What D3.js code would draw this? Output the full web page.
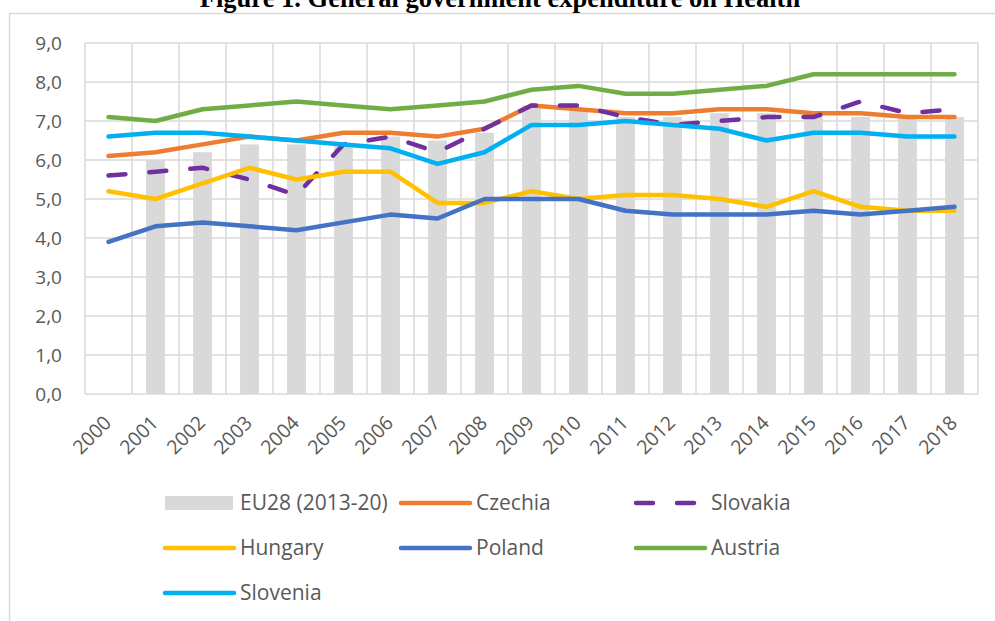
<!DOCTYPE html>
<html>
<head>
<meta charset="utf-8">
<script src="https://cdn.jsdelivr.net/npm/d3@7/dist/d3.min.js"></script>
<style>
  body { margin: 0; background: #fff; }
  .tick-label { font-family: "Open Sans", sans-serif; fill: #595959; }
  .legend text { font-family: "Open Sans", sans-serif; fill: #595959; font-size: 21px; }
</style>
</head>
<body>
<div id="chart"></div>
<script>
var width = 995, height = 621;

// data
var years = ['2000','2001','2002','2003','2004','2005','2006','2007','2008','2009',
             '2010','2011','2012','2013','2014','2015','2016','2017','2018'];
var eu28     = [null,6.0,6.2,6.4,6.4,6.4,6.6,6.5,6.7,7.4,7.3,7.1,7.1,7.2,7.2,7.1,7.1,7.1,7.1];
var czechia  = [6.1,6.2,6.4,6.6,6.5,6.7,6.7,6.6,6.8,7.4,7.3,7.2,7.2,7.3,7.3,7.2,7.2,7.1,7.1];
var slovakia = [5.6,5.7,5.8,5.5,5.1,6.4,6.6,6.2,6.8,7.4,7.4,7.1,6.9,7.0,7.1,7.1,7.5,7.2,7.3];
var hungary  = [5.2,5.0,5.4,5.8,5.5,5.7,5.7,4.9,4.9,5.2,5.0,5.1,5.1,5.0,4.8,5.2,4.8,4.7,4.7];
var poland   = [3.9,4.3,4.4,4.3,4.2,4.4,4.6,4.5,5.0,5.0,5.0,4.7,4.6,4.6,4.6,4.7,4.6,4.7,4.8];
var austria  = [7.1,7.0,7.3,7.4,7.5,7.4,7.3,7.4,7.5,7.8,7.9,7.7,7.7,7.8,7.9,8.2,8.2,8.2,8.2];
var slovenia = [6.6,6.7,6.7,6.6,6.5,6.4,6.3,5.9,6.2,6.9,6.9,7.0,6.9,6.8,6.5,6.7,6.7,6.6,6.6];
var yTicks = [0,1,2,3,4,5,6,7,8,9];

var lineSeries = [
  {name: 'Czechia',  values: czechia,  color: '#ED7D31'},
  {name: 'Slovakia', values: slovakia, color: '#7030A0', dash: '17,24'},
  {name: 'Hungary',  values: hungary,  color: '#FFC000'},
  {name: 'Poland',   values: poland,   color: '#4472C4'},
  {name: 'Austria',  values: austria,  color: '#70AD47'},
  {name: 'Slovenia', values: slovenia, color: '#00B0F0'}
];

var plot = {left: 85, right: 978, top: 43, bottom: 394};

var svg = d3.select('#chart').append('svg')
  .attr('width', width)
  .attr('height', height);

// outer chart border (cut off on right/bottom)
svg.append('rect')
  .attr('x', 9.5).attr('y', 13.5)
  .attr('width', 1000).attr('height', 700)
  .attr('fill', 'none').attr('stroke', '#d9d9d9').attr('stroke-width', 1.5);

svg.append('text')
  .attr('x', 500).attr('y', 7)
  .attr('text-anchor', 'middle')
  .style('font-family', '"Liberation Serif", "Times New Roman", serif')
  .style('font-weight', 'bold')
  .style('font-size', '26.5px')
  .attr('fill', '#000')
  .text('Figure 1. General government expenditure on Health');

var x = d3.scaleBand().domain(years).range([plot.left, plot.right]);
var xBar = d3.scaleBand().domain(years).range([plot.left, plot.right]).paddingInner(0.6).paddingOuter(0.3);
var y = d3.scaleLinear().domain([0, 9]).range([plot.bottom, plot.top]);

// gridlines
svg.append('g').selectAll('line.h')
  .data(yTicks).enter().append('line')
  .attr('x1', plot.left).attr('x2', plot.right)
  .attr('y1', function(d){ return y(d); }).attr('y2', function(d){ return y(d); })
  .attr('stroke', '#d9d9d9').attr('stroke-width', 1.5);

var bounds = years.map(function(d){ return x(d); }).concat([plot.right]);
svg.append('g').selectAll('line.v')
  .data(bounds).enter().append('line')
  .attr('x1', function(d){ return d; }).attr('x2', function(d){ return d; })
  .attr('y1', plot.top).attr('y2', plot.bottom)
  .attr('stroke', '#d9d9d9').attr('stroke-width', 1.5);

// bars
svg.append('g').selectAll('rect')
  .data(years.map(function(d, i){ return {year: d, v: eu28[i]}; }).filter(function(d){ return d.v != null; }))
  .enter().append('rect')
  .attr('x', function(d){ return xBar(d.year); })
  .attr('width', xBar.bandwidth())
  .attr('y', function(d){ return y(d.v); })
  .attr('height', function(d){ return y(0) - y(d.v); })
  .attr('fill', '#d9d9d9');

// lines
var line = d3.line()
  .x(function(d, i){ return x(years[i]) + x.bandwidth() / 2; })
  .y(function(d){ return y(d); });

svg.append('g').selectAll('path')
  .data(lineSeries).enter().append('path')
  .attr('d', function(d){ return line(d.values); })
  .attr('fill', 'none')
  .attr('stroke', function(d){ return d.color; })
  .attr('stroke-width', 4.5)
  .attr('stroke-linejoin', 'round')
  .attr('stroke-linecap', 'round')
  .attr('stroke-dasharray', function(d){ return d.dash || null; });

// y labels
svg.append('g').selectAll('text')
  .data(yTicks).enter().append('text')
  .attr('class', 'tick-label')
  .attr('x', 62)
  .attr('y', function(d){ return y(d); })
  .attr('dy', '0.35em')
  .attr('text-anchor', 'end')
  .style('font-size', '19px')
  .text(function(d){ return d3.format('.1f')(d).replace('.', ','); });

// x labels, rotated
svg.append('g').selectAll('text')
  .data(years).enter().append('text')
  .attr('class', 'tick-label')
  .attr('text-anchor', 'end')
  .style('font-size', '19.5px')
  .attr('transform', function(d){
    return 'translate(' + (x(d) + x.bandwidth() / 2 + 4) + ',424) rotate(-45)';
  })
  .text(function(d){ return d; });

// legend
var legendItems = [{name: 'EU28 (2013-20)', bar: true}].concat(lineSeries);
var colX = [163, 399, 634], rowY = [503, 548, 593];

var lg = svg.append('g').attr('class', 'legend')
  .selectAll('g').data(legendItems).enter().append('g')
  .attr('transform', function(d, i){
    return 'translate(' + colX[i % 3] + ',' + rowY[Math.floor(i / 3)] + ')';
  });

lg.each(function(d){
  var g = d3.select(this);
  if (d.bar) {
    g.append('rect').attr('x', 2).attr('y', -7).attr('width', 68).attr('height', 14).attr('fill', '#d9d9d9');
  } else {
    g.append('line')
      .attr('x1', 2).attr('x2', 71).attr('y1', 0).attr('y2', 0)
      .attr('stroke', d.color).attr('stroke-width', 4.5)
      .attr('stroke-linecap', 'round')
      .attr('stroke-dasharray', d.dash || null);
  }
  g.append('text').attr('x', 77).attr('y', 0).attr('dy', '0.35em').text(d.name);
});
</script>
</body>
</html>
